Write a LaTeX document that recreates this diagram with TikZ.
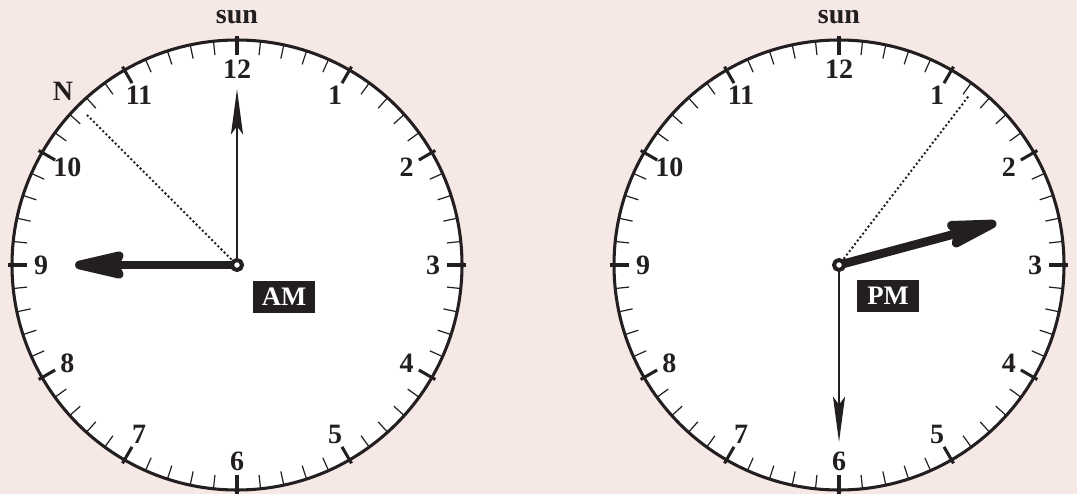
\documentclass[tikz,border=0pt]{standalone}
\usepackage{fontspec}
\setmainfont{Liberation Serif}
\usetikzlibrary{calc,arrows.meta}
\definecolor{pagebg}{RGB}{246,232,229}
\definecolor{ink}{RGB}{35,31,32}

\begin{document}
\begin{tikzpicture}[x=0.75pt, y=0.75pt, >=Stealth,
    numeral/.style={font=\fontsize{21}{21}\selectfont\bfseries, text=ink, inner sep=0pt},
    ampm/.style={fill=ink, text=white, font=\fontsize{20}{20}\selectfont\bfseries, minimum width=46pt, minimum height=24pt, inner sep=1pt},
    hourhand/.style={draw=ink, line width=6.5pt, -{Stealth[length=50pt, width=22pt, inset=5pt, round]}},
    minutehand/.style={draw=ink, line width=2pt, -{Stealth[length=34pt, width=9pt, inset=6pt]}},
    bisector/.style={draw=ink, line width=2.1pt, line cap=round, dash pattern=on 0pt off 3.3pt}]
  \useasboundingbox (0,0) rectangle (1077,494);
  \fill[pagebg] (0,0) rectangle (1077,494);

  % dials
  \foreach \cx/\nm in {237/l, 839/r} {
    \coordinate (\nm c) at (\cx,229);
    \draw[ink, line width=2.3pt, fill=white] (\nm c) circle (225);
    \foreach \i in {0,...,59} {
      \ifnum\numexpr\i-5*(\i/5)\relax=0
        \draw[ink, line width=2.3pt] ($(\nm c)+({90-6*\i}:229)$) -- ($(\nm c)+({90-6*\i}:210)$);
      \else
        \draw[ink, line width=0.9pt] ($(\nm c)+({90-6*\i}:225)$) -- ($(\nm c)+({90-6*\i}:211)$);
      \fi
    }
    \foreach \h in {1,...,12}
      \node[numeral] (\nm h\h) at ($(\nm c)+({90-30*\h}:196)$) {\h};
    \node[numeral] (\nm sun) at ($(\nm c)+(90:248)$) {sun};
  }

  % morning clock
  \node[numeral] (north) at ($(lc)+(135:246)$) {N};
  \coordinate (lhtip) at ($(lc)+(180:162)$);
  \coordinate (lmtip) at ($(lc)+(90:176)$);
  \coordinate (lbis) at ($(lc)+(135:212)$);
  \draw[bisector] (lc) -- (lbis);
  \draw[minutehand] (lc) -- (lmtip);
  \draw[hourhand] (lc) -- (lhtip);
  \filldraw[fill=white, draw=ink, line width=3pt] (lc) circle (5);
  \node[ampm] (am) at (284,197) {AM};

  % afternoon clock
  \coordinate (rhtip) at ($(rc)+(15:163)$);
  \coordinate (rmtip) at ($(rc)+(270:177)$);
  \coordinate (rbis) at ($(rc)+(52.5:213)$);
  \draw[bisector] (rc) -- (rbis);
  \draw[minutehand] (rc) -- (rmtip);
  \draw[hourhand] (rc) -- (rhtip);
  \filldraw[fill=white, draw=ink, line width=3pt] (rc) circle (5);
  \node[ampm] (pm) at (888,198) {PM};
\end{tikzpicture}
\end{document}
